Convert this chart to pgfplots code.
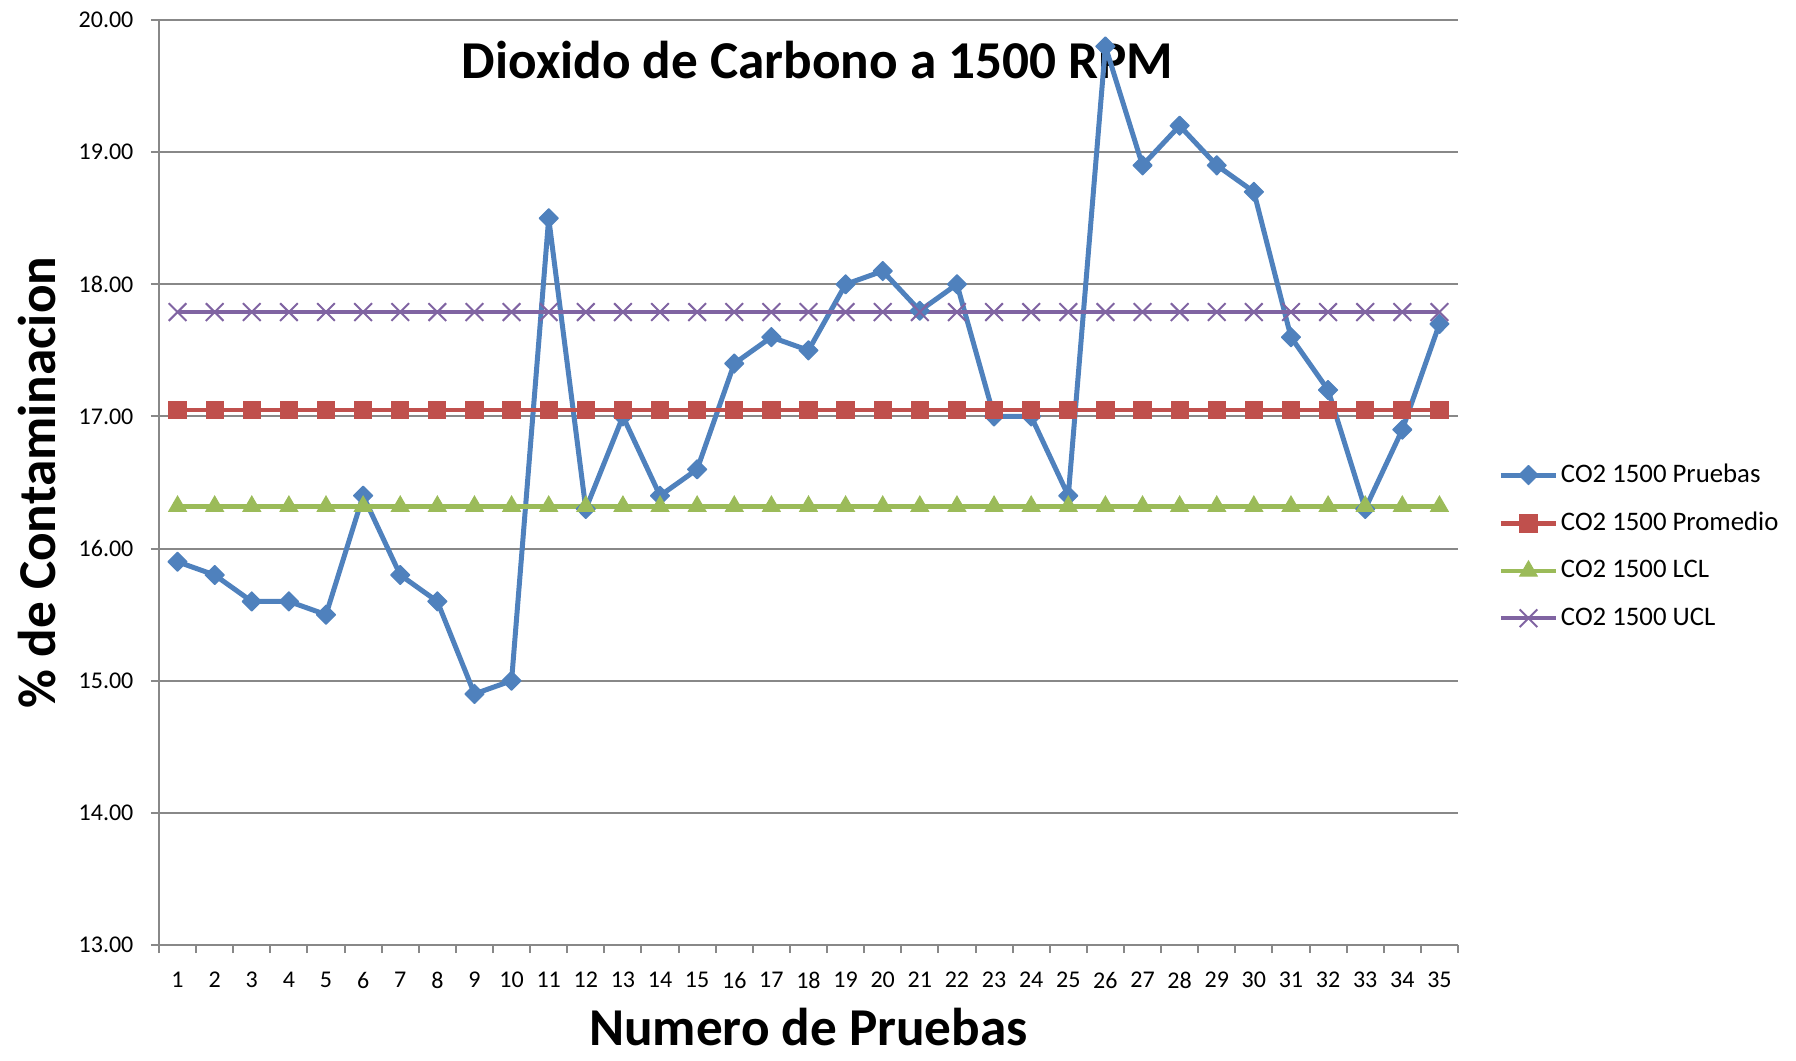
\documentclass[border=0pt]{standalone}
\usepackage{pgfplots}
\pgfplotsset{compat=1.18}
\usepackage{fontspec}
\setmainfont{Carlito}
\definecolor{cblue}{HTML}{4F81BD}
\definecolor{cred}{HTML}{C0504D}
\definecolor{cgreen}{HTML}{9BBB59}
\definecolor{cpurple}{HTML}{8064A2}
\definecolor{gridgray}{HTML}{888888}
\begin{document}
\begin{tikzpicture}
\path[use as bounding box] (-63.6pt,-46pt) rectangle (654.8pt,378pt);
\begin{axis}[
 at={(0,0)}, anchor=south west,
 scale only axis, width=519.6pt, height=370pt,
 xmin=0.5, xmax=35.5, ymin=13, ymax=20,
 axis x line*=bottom, axis y line*=left,
 axis line style={draw=gridgray, line width=0.8pt, -},
 xtick={1,...,35}, minor xtick={0.5,1.5,...,35.5},
 ytick={13,...,20},
 tick align=outside,
 major tick length=3.2pt, minor tick length=3.2pt,
 tick style={gridgray, line width=0.8pt},
 major x tick style={draw=none},
 ymajorgrids, major grid style={gridgray, line width=0.8pt},
 /pgf/number format/.cd, fixed, fixed zerofill, precision=2, assume math mode=true,
 /pgfplots/.cd,
 xticklabel={\pgfmathprintnumber[int detect]{\tick}},
 ticklabel style={font=\fontsize{9.6}{11}\selectfont},
 yticklabel style={xshift=-3.5pt},
 xticklabel style={yshift=-4pt},
 xlabel={\textbf{Numero de Pruebas}},
 ylabel={\textbf{\% de Contaminacion}},
 label style={font=\fontsize{21.3}{24}\selectfont, inner sep=0pt},
 xlabel style={at={(axis description cs:0.5,-0.0885)}, anchor=center},
 ylabel style={at={(axis description cs:-0.0939,0.5)}, anchor=center},
 legend style={draw=none, fill=none, at={(1,0.431)}, anchor=west, xshift=16pt,
   font=\fontsize{10.7}{13}\selectfont, row sep=8.4pt, inner sep=0pt,
   nodes={inner sep=1pt}},
 legend cell align=left,
 legend image code/.code={\draw[mark repeat=2,mark phase=2] plot coordinates {(0pt,0pt)(11pt,0pt)(22pt,0pt)};},
]
\node[font=\fontsize{21.3}{24}\selectfont\bfseries] at (axis description cs:0.507,1) [yshift=-16pt] {Dioxido de Carbono a 1500 RPM};
\addplot[cblue, line width=2pt, line join=round, mark=diamond*, mark size=3.8pt, mark options={xscale=1.33, line width=0.5pt}] coordinates {
(1,15.9)(2,15.8)(3,15.6)(4,15.6)(5,15.5)(6,16.4)(7,15.8)(8,15.6)(9,14.9)(10,15.0)
(11,18.5)(12,16.3)(13,17.0)(14,16.4)(15,16.6)(16,17.4)(17,17.6)(18,17.5)(19,18.0)(20,18.1)
(21,17.8)(22,18.0)(23,17.0)(24,17.0)(25,16.4)(26,19.8)(27,18.9)(28,19.2)(29,18.9)(30,18.7)
(31,17.6)(32,17.2)(33,16.3)(34,16.9)(35,17.7)};
\addlegendentry{CO2 1500 Pruebas}
\addplot[cred, line width=1.8pt, mark=square*, mark size=3.4pt, mark options={line width=0.5pt}] coordinates {
(1,17.05)(2,17.05)(3,17.05)(4,17.05)(5,17.05)(6,17.05)(7,17.05)(8,17.05)(9,17.05)(10,17.05)
(11,17.05)(12,17.05)(13,17.05)(14,17.05)(15,17.05)(16,17.05)(17,17.05)(18,17.05)(19,17.05)(20,17.05)
(21,17.05)(22,17.05)(23,17.05)(24,17.05)(25,17.05)(26,17.05)(27,17.05)(28,17.05)(29,17.05)(30,17.05)
(31,17.05)(32,17.05)(33,17.05)(34,17.05)(35,17.05)};
\addlegendentry{CO2 1500 Promedio}
\addplot[cgreen, line width=1.8pt, mark=triangle*, mark size=4pt, mark options={line width=0.5pt}] coordinates {
(1,16.32)(2,16.32)(3,16.32)(4,16.32)(5,16.32)(6,16.32)(7,16.32)(8,16.32)(9,16.32)(10,16.32)
(11,16.32)(12,16.32)(13,16.32)(14,16.32)(15,16.32)(16,16.32)(17,16.32)(18,16.32)(19,16.32)(20,16.32)
(21,16.32)(22,16.32)(23,16.32)(24,16.32)(25,16.32)(26,16.32)(27,16.32)(28,16.32)(29,16.32)(30,16.32)
(31,16.32)(32,16.32)(33,16.32)(34,16.32)(35,16.32)};
\addlegendentry{CO2 1500 LCL}
\addplot[cpurple, line width=1.8pt, mark=x, mark size=5pt, mark options={line width=0.8pt}] coordinates {
(1,17.79)(2,17.79)(3,17.79)(4,17.79)(5,17.79)(6,17.79)(7,17.79)(8,17.79)(9,17.79)(10,17.79)
(11,17.79)(12,17.79)(13,17.79)(14,17.79)(15,17.79)(16,17.79)(17,17.79)(18,17.79)(19,17.79)(20,17.79)
(21,17.79)(22,17.79)(23,17.79)(24,17.79)(25,17.79)(26,17.79)(27,17.79)(28,17.79)(29,17.79)(30,17.79)
(31,17.79)(32,17.79)(33,17.79)(34,17.79)(35,17.79)};
\addlegendentry{CO2 1500 UCL}
\end{axis}
\end{tikzpicture}
\end{document}
